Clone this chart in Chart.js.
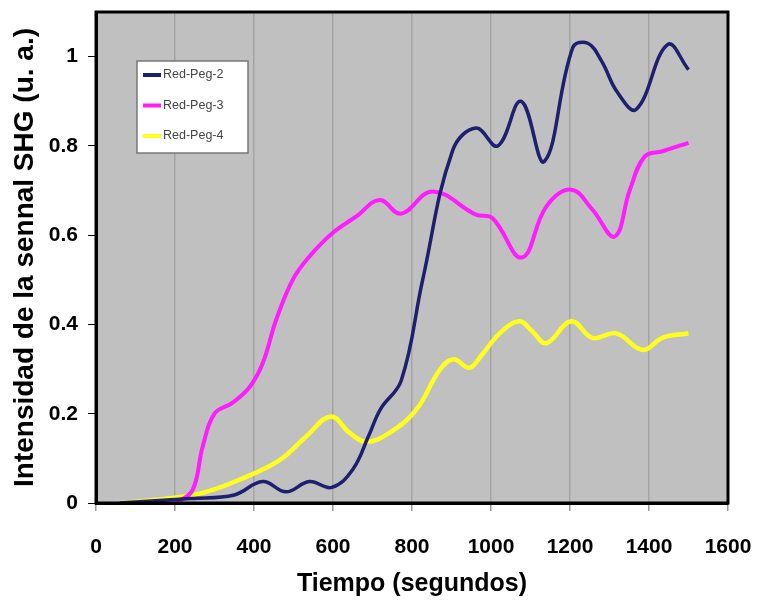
<!DOCTYPE html>
<html>
<head>
<meta charset="utf-8">
<script src="https://cdn.jsdelivr.net/npm/chart.js@4/dist/chart.umd.min.js"></script>
<style>
  html, body { margin: 0; padding: 0; background: #ffffff; }
  #wrap { width: 758px; height: 600px; }
</style>
</head>
<body>
<div id="wrap"><canvas id="c" width="758" height="600"></canvas></div>
<script>
// Series labels
const seriesNames = ['Red-Peg-2', 'Red-Peg-3', 'Red-Peg-4'];

// Red-Peg-2: time (s) and SHG signal (a.u.)
const peg2Time = [60, 240, 350, 422, 481, 540, 597, 650, 690, 720, 773, 827, 903, 962, 1017, 1076, 1135, 1207, 1245, 1280, 1320, 1368, 1447, 1500];
const peg2Signal = [0, 0.01, 0.018, 0.048, 0.025, 0.048, 0.035, 0.075, 0.15, 0.21, 0.275, 0.50, 0.79, 0.84, 0.80, 0.90, 0.765, 1.02, 1.03, 0.99, 0.92, 0.882, 1.027, 0.971];

// Red-Peg-3
const peg3Time = [205, 245, 270, 300, 346, 389, 422, 456, 498, 540, 599, 659, 718, 772, 852, 962, 1004, 1078, 1140, 1203, 1257, 1313, 1351, 1389, 1434, 1500];
const peg3Signal = [0, 0.03, 0.126, 0.20, 0.225, 0.26, 0.313, 0.41, 0.50, 0.552, 0.605, 0.642, 0.679, 0.648, 0.698, 0.646, 0.638, 0.55, 0.664, 0.702, 0.657, 0.597, 0.70, 0.776, 0.788, 0.807];

// Red-Peg-4
const peg4Time = [60, 194, 279, 363, 465, 532, 595, 642, 684, 743, 811, 870, 905, 945, 975, 1022, 1072, 1105, 1140, 1203, 1257, 1317, 1384, 1434, 1500];
const peg4Signal = [0, 0.011, 0.025, 0.052, 0.096, 0.149, 0.194, 0.157, 0.137, 0.157, 0.209, 0.298, 0.322, 0.303, 0.33, 0.38, 0.407, 0.384, 0.358, 0.407, 0.37, 0.38, 0.343, 0.37, 0.38];

// Axis ticks
const xTicks = [0, 200, 400, 600, 800, 1000, 1200, 1400, 1600];
const yTicks = [0, 0.2, 0.4, 0.6, 0.8, 1];

const seriesColors = ['#1f1f70', '#ff1cff', '#ffff1e'];
const seriesWidths = [3.5, 4, 4.5];

function pairs(xs, ys) { return xs.map((x, i) => ({ x: x, y: ys[i] })); }

const FONT = '"Liberation Sans", Arial, sans-serif';

// Grey plot panel, frame and boxed legend
const panelPlugin = {
  id: 'panel',
  beforeDraw(chart) {
    const { ctx, chartArea: a } = chart;
    ctx.save();
    ctx.fillStyle = '#ffffff';
    ctx.fillRect(0, 0, chart.width, chart.height);
    ctx.fillStyle = '#c0c0c0';
    ctx.fillRect(a.left, a.top, a.right - a.left, a.bottom - a.top);
    ctx.restore();
  },
  afterDraw(chart) {
    const { ctx, chartArea: a } = chart;
    ctx.save();
    ctx.strokeStyle = '#000000';
    ctx.lineWidth = 3;
    ctx.strokeRect(a.left, a.top, a.right - a.left, a.bottom - a.top);

    // legend box
    const bx = 137, by = 61, bw = 111, bh = 92;
    ctx.fillStyle = '#ffffff';
    ctx.fillRect(bx, by, bw, bh);
    ctx.strokeStyle = '#777777';
    ctx.lineWidth = 1.5;
    ctx.strokeRect(bx, by, bw, bh);
    chart.data.datasets.forEach((ds, i) => {
      const y = 75 + i * 30.5;
      ctx.strokeStyle = ds.borderColor;
      ctx.lineWidth = 4;
      ctx.beginPath();
      ctx.moveTo(143, y);
      ctx.lineTo(161, y);
      ctx.stroke();
      ctx.fillStyle = '#444444';
      ctx.font = '12.5px ' + FONT;
      ctx.textBaseline = 'middle';
      ctx.textAlign = 'left';
      ctx.fillText(ds.label, 163, y);
    });
    ctx.restore();
  }
};

const datasets = [
  pairs(peg2Time, peg2Signal),
  pairs(peg3Time, peg3Signal),
  pairs(peg4Time, peg4Signal)
].map((d, i) => ({
  label: seriesNames[i],
  data: d,
  borderColor: seriesColors[i],
  borderWidth: seriesWidths[i],
  pointRadius: 0,
  tension: 0.4,
  fill: false
}));

new Chart(document.getElementById('c'), {
  type: 'line',
  data: { datasets: datasets },
  plugins: [panelPlugin],
  options: {
    responsive: false,
    animation: false,
    layout: { padding: { top: 12, right: 30, left: 0, bottom: 0 } },
    plugins: { legend: { display: false }, tooltip: { enabled: false } },
    scales: {
      x: {
        type: 'linear',
        min: 0, max: 1600,
        afterBuildTicks: axis => { axis.ticks = xTicks.map(v => ({ value: v })); },
        afterFit: scale => { scale.height = 97; scale.paddingLeft = 0; scale.paddingRight = 0; },
        ticks: {
          color: '#000', font: { family: FONT, size: 21, weight: 'bold' }, padding: 24, maxRotation: 0,
          callback: v => String(v)
        },
        grid: { color: '#a4a4a4', lineWidth: 1.5, tickLength: 8, tickColor: '#999999' },
        border: { color: '#000', width: 3 },
        title: {
          display: true, text: 'Tiempo (segundos)', color: '#000',
          font: { family: FONT, size: 25, weight: 'bold' }, padding: { top: 0, bottom: 1 }
        }
      },
      y: {
        type: 'linear',
        min: 0, max: 1.1,
        afterBuildTicks: axis => { axis.ticks = yTicks.map(v => ({ value: v })); },
        afterFit: scale => { scale.width = 96; scale.paddingTop = 0; scale.paddingBottom = 0; },
        ticks: {
          color: '#000', font: { family: FONT, size: 21, weight: 'bold' }, padding: 10,
          callback: v => String(Math.round(v * 10) / 10)
        },
        grid: { drawOnChartArea: false, tickLength: 8, tickColor: '#000' },
        border: { color: '#000', width: 3 },
        title: {
          display: true, text: 'Intensidad de la sennal SHG (u. a.)', color: '#000',
          font: { family: FONT, size: 28, weight: 'bold' }, padding: { top: 8, bottom: 0 }
        }
      }
    }
  }
});
</script>
</body>
</html>
